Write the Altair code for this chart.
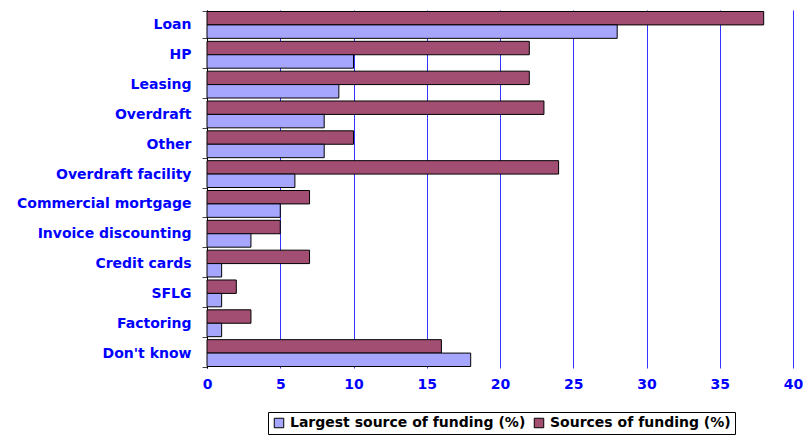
import altair as alt
import pandas as pd

categories = ["Loan", "HP", "Leasing", "Overdraft", "Other", "Overdraft facility",
              "Commercial mortgage", "Invoice discounting", "Credit cards", "SFLG",
              "Factoring", "Don't know"]
sources = [38, 22, 22, 23, 10, 24, 7, 5, 7, 2, 3, 16]
largest = [28, 10, 9, 8, 8, 6, 5, 3, 1, 1, 1, 18]

S_NAME = "Sources of funding (%)"
L_NAME = "Largest source of funding (%)"

rows = []
for c, s, l in zip(categories, sources, largest):
    rows.append({"cat": c, "series": S_NAME, "value": s})
    rows.append({"cat": c, "series": L_NAME, "value": l})
df = pd.DataFrame(rows)

FONT = "DejaVu Sans"

chart = alt.Chart(df).mark_bar(stroke="black", strokeWidth=1).encode(
    y=alt.Y("cat:N", sort=categories, title=None,
            scale=alt.Scale(paddingInner=0.1, paddingOuter=0.05),
            axis=alt.Axis(labelColor="#0000FF", labelFont=FONT, labelFontWeight="bold",
                          labelFontSize=14, tickBand="extent", tickSize=5,
                          tickColor="#444444", domainColor="black", labelPadding=11,
                          labelLimit=0, grid=False)),
    yOffset=alt.YOffset("series:N", sort=[S_NAME, L_NAME]),
    x=alt.X("value:Q", title=None,
            scale=alt.Scale(domain=[0, 40], nice=False),
            axis=alt.Axis(values=[0, 5, 10, 15, 20, 25, 30, 35, 40], labelColor="#0000FF",
                          labelFont=FONT, labelFontWeight="bold", labelFontSize=14,
                          ticks=False, domain=False, grid=True, gridColor="#0000FF",
                          gridOpacity=0.8, labelPadding=9, labelFlush=False)),
    color=alt.Color("series:N",
                    scale=alt.Scale(domain=[L_NAME, S_NAME], range=["#A6A6FF", "#A24E73"]),
                    legend=alt.Legend(title=None, orient="none", legendX=61, legendY=402,
                                      direction="horizontal", symbolType="square",
                                      symbolSize=90, symbolStrokeColor="black",
                                      symbolStrokeWidth=1, labelFont=FONT,
                                      labelFontWeight="bold", labelFontSize=14,
                                      labelColor="black", strokeColor="black",
                                      labelLimit=0, padding=4, columnPadding=6,
                                      fillColor="white")),
).properties(
    width=586, height=358,
    autosize=alt.AutoSizeParams(type="none"),
    padding={"left": 199, "top": 2, "right": 10, "bottom": 68},
).configure_view(stroke=None)

chart.save("out.html", embed_options={"renderer": "svg", "actions": False})
